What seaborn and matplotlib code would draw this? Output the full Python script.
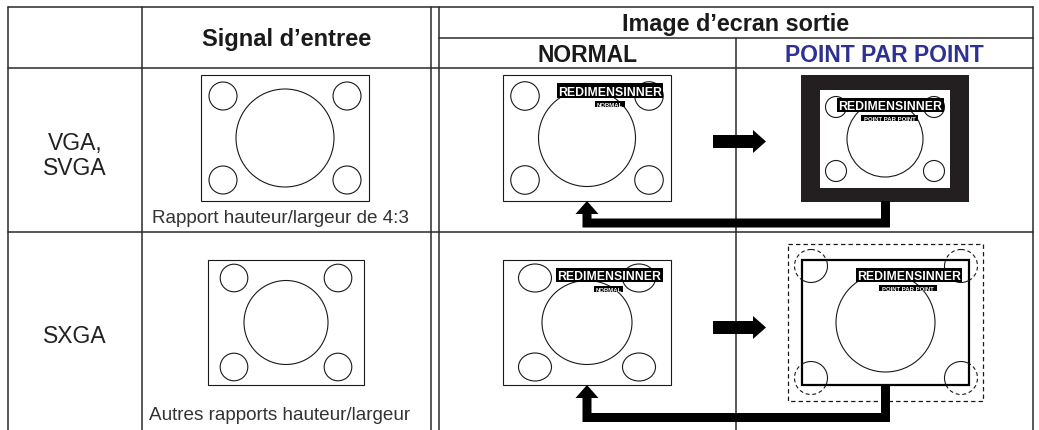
import matplotlib
matplotlib.use("Agg")
import matplotlib.pyplot as plt
from matplotlib.patches import Rectangle, Circle, Ellipse, Polygon
import seaborn as sns

# texts of the diagram
input_header = "Signal d’entree"
output_header = "Image d’ecran sortie"
mode_headers = ["NORMAL", "POINT PAR POINT"]
mode_colors = ["#1a1a1a", "#2e3192"]
row_labels = ["VGA,\nSVGA", "SXGA"]
captions = ["Rapport hauteur/largeur de 4:3", "Autres rapports hauteur/largeur"]
osd_title = "REDIMENSINNER"
osd_modes = ["NORMAL", "POINT PAR POINT"]

sns.set_theme(style="white")
plt.rcParams['font.family'] = ['Liberation Sans', 'DejaVu Sans']

W, H = 1039, 431
LINE = "#2a2a2a"
INK = "#1a1a1a"

fig = plt.figure(figsize=(W / 100, H / 100), dpi=100)
ax = fig.add_axes([0, 0, 1, 1])
ax.set_xlim(0, W)
ax.set_ylim(H, 0)
ax.axis("off")

# ---- table grid
y_top, y_sub, y_head, y_row = 8, 39, 69, 233
for x in [8, 142, 431, 439, 1033]:
    ax.plot([x, x], [y_top, H], color=LINE, lw=1.1)
ax.plot([736, 736], [y_sub, H], color=LINE, lw=1.1)
for y in [y_top, y_head, y_row]:
    ax.plot([8, 1033], [y, y], color=LINE, lw=1.1)
ax.plot([439, 1033], [y_sub, y_sub], color=LINE, lw=1.1)

# ---- headers
ax.text((142 + 431) / 2, 46, input_header, ha="center", va="baseline",
        fontsize=17, fontweight="bold", color=INK)
ax.text((439 + 1033) / 2, 31, output_header, ha="center", va="baseline",
        fontsize=16.8, fontweight="bold", color=INK)
for (x0, x1), txt, c in zip([(439, 736), (736, 1033)], mode_headers, mode_colors):
    ax.text((x0 + x1) / 2, 62, txt, ha="center", va="baseline",
            fontsize=16.5, fontweight="bold", color=c)

# ---- row labels and captions
first, second = row_labels[0].split("\n")
ax.text(75, 150, first, ha="center", va="baseline", fontsize=16.5, color="#222")
ax.text(75, 175, second, ha="center", va="baseline", fontsize=16.5, color="#222")
ax.text(75, 343, row_labels[1], ha="center", va="baseline", fontsize=16.5, color="#222")
ax.text(280.5, 223, captions[0], ha="center", va="baseline", fontsize=13.6, color="#333")
ax.text(279.5, 420, captions[1], ha="center", va="baseline", fontsize=13.6, color="#333")


def screen(x0, y0, w, h, dx, dy, sw, sh, bw, bh, lw=0.8, face="white", zorder=2):
    rect = Rectangle((x0, y0), w, h, fill=True, facecolor=face, edgecolor=INK, lw=lw, zorder=zorder)
    ax.add_patch(rect)
    cx, cy = x0 + w / 2, y0 + h / 2
    ax.add_patch(Ellipse((cx, cy), bw, bh, fill=False, edgecolor=INK, lw=0.8, zorder=zorder + 0.1))
    for sx, sy in [(x0 + dx, y0 + dy), (x0 + w - dx, y0 + dy),
                   (x0 + dx, y0 + h - dy), (x0 + w - dx, y0 + h - dy)]:
        ax.add_patch(Ellipse((sx, sy), sw, sh, fill=False, edgecolor=INK, lw=0.8, zorder=zorder + 0.1))
    return rect


def osd(big, small, mode):
    bx0, bx1, by0, by1 = big
    ax.add_patch(Rectangle((bx0, by0), bx1 - bx0, by1 - by0, color="black", lw=0, zorder=5))
    ax.text((bx0 + bx1) / 2, (by0 + by1) / 2 + 4.4, osd_title, ha="center", va="baseline",
            fontsize=8.8, fontweight="bold", color="white", zorder=6)
    sx0, sx1, sy0, sy1 = small
    ax.add_patch(Rectangle((sx0, sy0), sx1 - sx0, sy1 - sy0, color="black", lw=0, zorder=5))
    ax.text((sx0 + sx1) / 2, (sy0 + sy1) / 2 + 2.1, mode, ha="center", va="baseline",
            fontsize=4.3, fontweight="bold", color="white", zorder=6)


# ---- input signal screens
screen(201, 76, 168, 126, 22, 21, 28, 28, 98, 98)
screen(208, 261, 156, 125, 26, 18, 27.6, 27.6, 84, 84)

# ---- NORMAL outputs
screen(503, 76, 168, 126, 22, 21, 28.5, 28.5, 97, 97)
osd((557, 663, 84, 99), (595, 625, 102, 108), osd_modes[0])
screen(503, 261, 168, 125, 32, 18, 33, 28, 90, 84)
osd((556, 663, 269, 283), (594, 623, 287, 293), osd_modes[0])

# ---- POINT PAR POINT row 1 (black border around native picture)
ax.add_patch(Rectangle((801, 76), 168, 127, facecolor="#231f20", edgecolor="none", zorder=2))
screen(820, 91, 130, 98, 16, 17, 21, 21, 76, 76, lw=0)
osd((837, 944, 99, 113), (861, 918, 116, 122), osd_modes[1])

# ---- POINT PAR POINT row 2 (cropped picture)
dash = (0, (3.5, 2.5))
ax.add_patch(Rectangle((788, 245), 195, 157, fill=False, edgecolor=INK, lw=0.9, ls=dash, zorder=2))
inner = Rectangle((802, 261), 167, 125, facecolor="white", edgecolor="black", lw=1.6, zorder=2.5)
ax.add_patch(inner)
ax.add_patch(Circle((885.5, 323.5), 49.5, fill=False, edgecolor=INK, lw=0.8, zorder=3))
for sx, sy in [(811, 267), (961, 267), (811, 379), (961, 379)]:
    ax.add_patch(Circle((sx, sy), 16.5, fill=False, edgecolor=INK, lw=0.8, ls=dash, zorder=2.2))
    c = Circle((sx, sy), 16.5, fill=False, edgecolor=INK, lw=0.8, zorder=3)
    ax.add_patch(c)
    c.set_clip_path(inner)
osd((856, 962, 269, 283), (879, 937, 286, 292), osd_modes[1])

# ---- arrows
for cy in [142.5, 328.5]:
    ax.add_patch(Polygon([(713, cy - 6.5), (753, cy - 6.5), (753, cy - 11.5), (766, cy),
                          (753, cy + 11.5), (753, cy + 6.5), (713, cy + 6.5)],
                         closed=True, color="black", lw=0, zorder=6))

for y_from, y_to, y_bar in [(202, 202, 219.5), (386, 386, 414)]:
    ax.add_patch(Polygon([(881, y_from), (890, y_from), (890, y_bar + 9), (582.5, y_bar + 9),
                          (582.5, y_to + 13), (575.5, y_to + 13), (587, y_to), (598.5, y_to + 13),
                          (591.5, y_to + 13), (591.5, y_bar), (881, y_bar)],
                         closed=True, color="black", lw=0, zorder=6))

fig.savefig("out.png", dpi=100, facecolor="white")
